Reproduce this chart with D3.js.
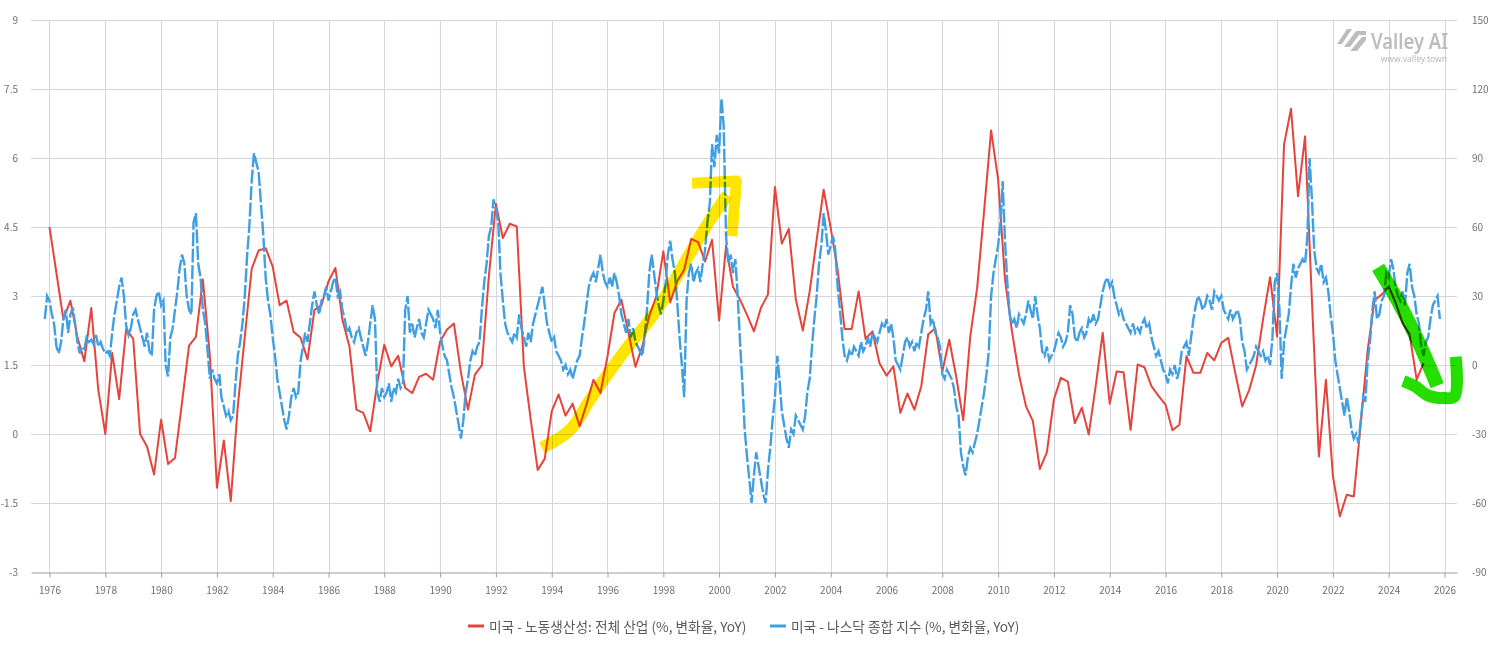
<!DOCTYPE html>
<html>
<head>
<meta charset="utf-8">
<script src="https://cdn.jsdelivr.net/npm/d3@7"></script>
<style>
  body { margin: 0; background: #fff; }
  svg { display: block; font-family: "Noto Sans CJK KR", "Noto Sans", sans-serif; }
</style>
</head>
<body>
<div id="chart"></div>
<script>
// Axis ticks
const leftTicks = [-3, -1.5, 0, 1.5, 3, 4.5, 6, 7.5, 9];
const rightTicks = [-90, -60, -30, 0, 30, 60, 90, 120, 150];
const yearTicks = d3.range(1976, 2027, 2);

// US labour productivity, all industries (% YoY), quarterly from 1976 Q1
const prodStart = [1976, 0];
const productivityYoY = [
  4.5, 3.5, 2.49, 2.9,      // 1976
  2.1, 1.58, 2.74, 0.96,    // 1977
  0.0, 1.76, 0.76, 2.28,    // 1978
  2.07, 0.0, -0.27, -0.88,  // 1979
  0.31, -0.65, -0.52, 0.69, // 1980
  1.92, 2.11, 3.36, 1.69,   // 1981
  -1.17, -0.14, -1.46, 0.6, // 1982
  2.12, 3.59, 3.99, 4.04,   // 1983
  3.64, 2.8, 2.9, 2.22,     // 1984
  2.09, 1.62, 2.7, 2.8,     // 1985
  3.32, 3.61, 2.49, 1.91,   // 1986
  0.53, 0.46, 0.06, 1.11,   // 1987
  1.94, 1.47, 1.7, 1.0,     // 1988
  0.89, 1.24, 1.31, 1.18,   // 1989
  2.01, 2.27, 2.4, 1.33,    // 1990
  0.53, 1.29, 1.49, 3.43,   // 1991
  5.0, 4.26, 4.57, 4.51,    // 1992
  1.47, 0.31, -0.78, -0.54, // 1993
  0.49, 0.86, 0.4, 0.66,    // 1994
  0.17, 0.64, 1.18, 0.89,   // 1995
  1.69, 2.63, 2.92, 2.2,    // 1996
  1.46, 1.91, 2.57, 2.99,   // 1997
  3.97, 2.86, 3.32, 3.57,   // 1998
  4.24, 4.17, 3.75, 4.22,   // 1999
  2.47, 4.09, 3.2, 2.92,    // 2000
  2.59, 2.23, 2.74, 3.03,   // 2001
  5.37, 4.14, 4.46, 2.93,   // 2002
  2.25, 3.1, 4.22, 5.31,    // 2003
  4.48, 3.57, 2.28, 2.28,   // 2004
  3.1, 2.07, 2.23, 1.54,    // 2005
  1.27, 1.47, 0.46, 0.88,   // 2006
  0.53, 1.04, 2.17, 2.3,    // 2007
  1.36, 2.05, 1.25, 0.3,    // 2008
  2.12, 3.17, 4.84, 6.6,    // 2009
  5.53, 3.36, 2.23, 1.29,   // 2010
  0.6, 0.28, -0.76, -0.4,   // 2011
  0.75, 1.22, 1.14, 0.24,   // 2012
  0.57, -0.01, 1.04, 2.2,   // 2013
  0.66, 1.36, 1.34, 0.09,   // 2014
  1.51, 1.45, 1.04, 0.83,   // 2015
  0.64, 0.08, 0.2, 1.69,    // 2016
  1.33, 1.33, 1.76, 1.6,    // 2017
  1.98, 2.09, 1.34, 0.6,    // 2018
  0.96, 1.49, 2.49, 3.41,   // 2019
  2.12, 6.29, 7.07, 5.17,   // 2020
  6.47, 2.9, -0.49, 1.18,   // 2021
  -0.92, -1.79, -1.32, -1.36, // 2022
  0.24, 1.83, 2.91, 3.03,   // 2023
  3.21, 2.85, 2.41, 2.16,   // 2024
  1.18, 1.54                // 2025
];

// Nasdaq composite (% YoY), monthly from Nov 1975
const nasdaqStart = [1975, 10];
const nasdaqYoY = [
  20, 30,                                          // 1975
  28, 22, 18, 8, 5, 10, 20, 24, 14, 22, 25, 18,    // 1976
  10, 5, 8, 7, 12, 10, 11, 9, 13, 8, 10, 7,        // 1977
  5, 6, 4, 14, 22, 28, 34, 38, 30, 17, 13, 16,     // 1978
  22, 24, 20, 16, 12, 8, 14, 6, 4, 24, 30, 32,     // 1979
  26, 28, 0, -5, 12, 16, 24, 32, 42, 48, 44, 30,   // 1980
  24, 22, 62, 66, 44, 38, 24, 18, 6, -6, -2, -6,   // 1981
  -8, -4, -14, -18, -22, -20, -24, -22, -8, 4, 10, 18, // 1982
  30, 48, 60, 80, 92, 88, 84, 70, 56, 38, 28, 22,  // 1983
  12, 4, -6, -12, -18, -24, -28, -22, -14, -10, -14, -12, // 1984
  2, 8, 14, 10, 18, 26, 32, 26, 22, 28, 30, 34,    // 1985
  28, 32, 36, 38, 30, 32, 24, 20, 14, 16, 12, 10,  // 1986
  14, 16, 12, 8, 4, 10, 18, 26, 20, -12, -16, -10, // 1987
  -14, -12, -8, -16, -10, -12, -6, -10, -8, 24, 30, 14, // 1988
  18, 12, 16, 20, 14, 12, 18, 24, 22, 20, 16, 24,  // 1989
  14, 8, 4, 2, -4, -10, -14, -20, -26, -32, -24, -12, // 1990
  -6, 2, 6, 4, 8, 10, 24, 36, 44, 56, 60, 72,      // 1991
  68, 62, 40, 28, 18, 14, 12, 10, 14, 12, 22, 16,  // 1992
  12, 8, 14, 10, 18, 22, 26, 30, 34, 26, 18, 14,   // 1993
  10, 12, 6, 4, 2, -2, 0, -4, -2, -6, -2, 2,       // 1994
  4, 12, 18, 26, 34, 38, 40, 36, 42, 48, 40, 36,   // 1995
  34, 38, 34, 40, 36, 30, 22, 18, 14, 20, 12, 16,  // 1996
  10, 8, 6, 4, 12, 24, 40, 48, 40, 32, 26, 22,     // 1997
  28, 36, 48, 54, 46, 40, 28, 12, 0, -14, 28, 40,  // 1998
  44, 36, 40, 42, 36, 44, 50, 62, 70, 96, 86, 100, // 1999
  92, 116, 104, 56, 44, 48, 40, 46, 30, 10, -8, -28, // 2000
  -40, -50, -60, -48, -38, -44, -50, -56, -60, -46, -36, -24, // 2001
  -14, 4, -6, -20, -26, -32, -36, -28, -30, -22, -24, -26, // 2002
  -28, -22, -12, -6, 8, 20, 30, 44, 52, 66, 58, 48, // 2003
  52, 56, 50, 34, 24, 12, 4, 2, 6, 4, 8, 6,        // 2004
  4, 10, 6, 8, 12, 8, 14, 12, 10, 14, 18, 16,      // 2005
  20, 14, 18, 12, 2, 0, -2, 4, 10, 12, 8, 10,      // 2006
  6, 10, 8, 14, 20, 24, 32, 18, 20, 14, 12, 8,     // 2007
  -4, -6, -2, -4, -6, -10, -18, -22, -38, -44, -48, -40, // 2008
  -36, -38, -34, -30, -24, -18, -12, -4, 6, 30, 40, 46, // 2009
  52, 62, 80, 54, 36, 22, 18, 20, 16, 22, 20, 18,  // 2010
  22, 28, 24, 20, 30, 22, 16, 6, 4, 8, 2, 4,       // 2011
  6, 10, 14, 12, 8, 10, 14, 26, 22, 12, 10, 14,    // 2012
  16, 12, 14, 20, 18, 22, 18, 20, 26, 32, 36, 38,  // 2013
  34, 36, 30, 26, 22, 24, 20, 18, 16, 14, 18, 14,  // 2014
  16, 14, 18, 20, 16, 18, 12, 8, 4, 6, 2, -2,      // 2015
  -4, -8, -2, -4, 0, -6, -2, 6, 8, 10, 4, 12,      // 2016
  20, 26, 30, 28, 24, 26, 30, 28, 24, 32, 30, 28,  // 2017
  30, 24, 22, 20, 24, 20, 22, 24, 20, 10, 6, -2,   // 2018
  0, 2, 4, 8, 6, 4, 6, 2, 4, 0, 12, 36,            // 2019
  40, 24, -6, 10, 16, 22, 34, 44, 38, 42, 44, 46,  // 2020
  44, 56, 90, 72, 50, 42, 40, 44, 36, 38, 32, 22,  // 2021
  14, 2, -4, -10, -16, -22, -14, -20, -28, -32, -30, -34, // 2022
  -24, -14, -16, 2, 10, 24, 32, 20, 22, 28, 30, 40, // 2023
  38, 46, 42, 34, 30, 28, 32, 26, 40, 44, 34, 30,  // 2024
  22, 18, 8, 4, 10, 12, 20, 26, 28, 30, 20         // 2025
];

const legendLabels = [
  "미국 - 노동생산성: 전체 산업 (%, 변화율, YoY)",
  "미국 - 나스닥 종합 지수 (%, 변화율, YoY)"
];

// Hand-drawn highlighter marks, in [decimal year, left-axis value]
const yellowCurve = [[1993.65, -0.3], [1994.66, 0.09], [1995.37, 0.74], [1996.56, 1.76],
  [1997.77, 2.7], [1998.96, 3.93], [1999.68, 4.65], [2000.3, 5.2]];
const yellowHead = [[1999.03, 5.45], [2000.62, 5.5], [2000.46, 4.3]];
const greenStroke = [[2023.62, 3.62], [2024.41, 2.8], [2025.12, 1.93], [2025.74, 1.05]];
const greenHook = [[2024.52, 1.15], [2024.94, 1.04], [2025.4, 0.84], [2026.0, 0.78],
  [2026.36, 0.82], [2026.4, 1.68]];

const W = 1510, H = 649;
const plot = { left: 31, right: 1457, top: 20, bottom: 572 };
const red = "#e5443d", blue = "#3f9fe2", axisGrey = "#6e7079", gridGrey = "#d3d6df";

function decYear(y) {
  const yr = Math.floor(y);
  const a = new Date(yr, 0, 1), b = new Date(yr + 1, 0, 1);
  return new Date(+a + (y - yr) * (b - a));
}

const svg = d3.select("#chart").append("svg")
  .attr("width", W).attr("height", H);

const x = d3.scaleTime()
  .domain([decYear(1975.337), decYear(2026.447)])
  .range([plot.left, plot.right]);
const yL = d3.scaleLinear().domain([-3, 9]).range([plot.bottom, plot.top]);
const yR = d3.scaleLinear().domain([-90, 150]).range([plot.bottom, plot.top]);

// grid
svg.append("g").selectAll("line").data(leftTicks.slice(1)).join("line")
  .attr("x1", plot.left).attr("x2", plot.right)
  .attr("y1", d => yL(d) + 0.5).attr("y2", d => yL(d) + 0.5)
  .attr("stroke", gridGrey);
svg.append("g").selectAll("line").data(yearTicks).join("line")
  .attr("x1", d => Math.round(x(new Date(d, 0, 1))) + 0.5)
  .attr("x2", d => Math.round(x(new Date(d, 0, 1))) + 0.5)
  .attr("y1", plot.top).attr("y2", plot.bottom)
  .attr("stroke", gridGrey);

// bottom axis
const xAxis = svg.append("g")
  .attr("transform", `translate(0,${plot.bottom + 0.5})`)
  .call(d3.axisBottom(x)
    .tickValues(yearTicks.map(d => new Date(d, 0, 1)))
    .tickFormat(d3.timeFormat("%Y"))
    .tickSize(5).tickPadding(9).tickSizeOuter(0));
xAxis.select(".domain").attr("stroke", "#9b9ea8");
xAxis.selectAll(".tick line").attr("stroke", "#9b9ea8");
xAxis.selectAll("text").attr("fill", axisGrey).style("font-size", "10px")
  .style("font-family", "'Noto Sans CJK KR', sans-serif");

// left / right axes (plain hyphen for negatives, like the source)
const lAxis = svg.append("g").attr("transform", `translate(${plot.left},0)`)
  .call(d3.axisLeft(yL).tickValues(leftTicks).tickFormat(d => String(d)).tickSize(0).tickPadding(13));
const rAxis = svg.append("g").attr("transform", `translate(${plot.right},0)`)
  .call(d3.axisRight(yR).tickValues(rightTicks).tickFormat(d => String(d)).tickSize(0).tickPadding(15));
[lAxis, rAxis].forEach(a => {
  a.select(".domain").remove();
  a.selectAll("text").attr("fill", axisGrey).style("font-size", "10px")
    .style("font-family", "'Noto Sans CJK KR', sans-serif");
});

// series
const prodData = productivityYoY.map((v, i) => ({ date: new Date(prodStart[0], prodStart[1] + i * 3, 1), v }));
const nasdaqData = nasdaqYoY.map((v, i) => ({ date: new Date(nasdaqStart[0], nasdaqStart[1] + i, 1), v }));

svg.append("path").datum(prodData)
  .attr("fill", "none").attr("stroke", red).attr("stroke-width", 2)
  .attr("stroke-linejoin", "round")
  .attr("d", d3.line().x(d => x(d.date)).y(d => yL(d.v)));

svg.append("path").datum(nasdaqData)
  .attr("fill", "none").attr("stroke", blue).attr("stroke-width", 2.4)
  .attr("stroke-dasharray", "14 2.5")
  .attr("d", d3.line().x(d => x(d.date)).y(d => yR(d.v)));

// highlighter marks
const markLine = d3.line().x(d => x(decYear(d[0]))).y(d => yL(d[1]));
const markCurve = d3.line().curve(d3.curveCatmullRom).x(d => x(decYear(d[0]))).y(d => yL(d[1]));
const marks = svg.append("g");
[
  { d: markCurve(yellowCurve), c: "#ffe500", w: 12 },
  { d: markLine(yellowHead), c: "#ffe500", w: 11 },
  { d: markCurve(greenStroke), c: "#25de00", w: 14 },
  { d: markCurve(greenHook), c: "#25de00", w: 12 }
].forEach(m => {
  marks.append("path").attr("d", m.d)
    .attr("fill", "none").attr("stroke", m.c).attr("stroke-width", m.w)
    .attr("stroke-linejoin", "round").style("mix-blend-mode", "multiply");
});

// watermark
const wm = svg.append("g").attr("fill", "#bdbdc0");
wm.append("path").attr("d",
  "M1337,44 L1347,29 L1352,29 L1342,44 Z M1344,47 L1356,31 L1366,31 L1366,35 L1359,35 L1350,47 Z M1352,49 L1362,37 L1366,37 L1366,40 L1357,51 L1350,51 Z");
wm.append("text").attr("x", 1371).attr("y", 49)
  .style("font-size", "22px").style("font-weight", "600")
  .style("font-family", "'Noto Sans', sans-serif")
  .attr("textLength", 77).attr("lengthAdjust", "spacingAndGlyphs")
  .text("Valley AI");
wm.append("text").attr("x", 1447).attr("y", 62).attr("text-anchor", "end")
  .attr("fill", "#b8b8ba")
  .style("font-size", "8.5px").style("font-family", "'Noto Sans', sans-serif")
  .text("www.valley.town");

// legend
const legendItems = [
  { color: red, text: legendLabels[0], x: 468 },
  { color: blue, text: legendLabels[1], x: 770 }
];
const lg = svg.append("g");
legendItems.forEach(d => {
  lg.append("line").attr("x1", d.x).attr("x2", d.x + 16)
    .attr("y1", 626).attr("y2", 626)
    .attr("stroke", d.color).attr("stroke-width", 3);
  lg.append("text").attr("x", d.x + 21).attr("y", 626)
    .attr("dominant-baseline", "central")
    .attr("fill", "#5a5a5a").style("font-size", "13.7px")
    .text(d.text);
});
</script>
</body>
</html>
